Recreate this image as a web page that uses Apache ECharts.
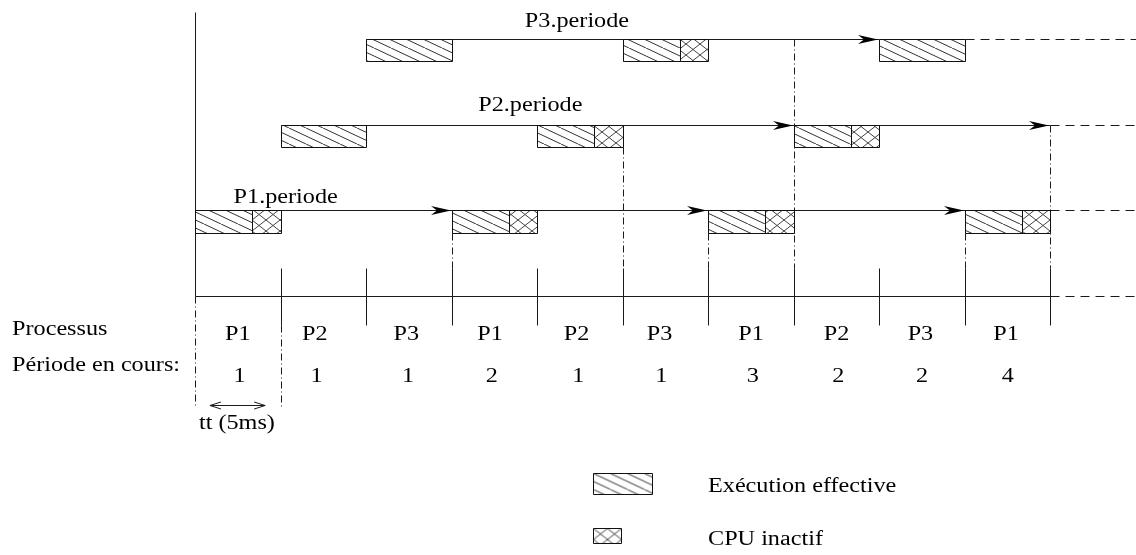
<!DOCTYPE html>
<html><head><meta charset="utf-8">
<script src="https://cdn.jsdelivr.net/npm/echarts@6/dist/echarts.min.js"></script>
<style>html,body{margin:0;padding:0;background:#fff}#c{width:1136px;height:555px}</style>
</head><body><div id="c"></div>
<script>
// ---------- data (time in scheduling slots, 1 slot = tt = 5 ms; rows: 1 = P1, 2 = P2, 3 = P3) ----------
const processNames = ['P1', 'P2', 'P3'];
const slotProcess = ['P1','P2','P3','P1','P2','P3','P1','P2','P3','P1'];
const slotPeriod  = ['1','1','1','2','1','1','3','2','2','4'];
// effective execution: [row, start, end]
const execBlocks = [
  [1, 0, 2/3], [1, 3, 3 + 2/3], [1, 6, 6 + 2/3], [1, 9, 9 + 2/3],
  [2, 1, 2], [2, 4, 4 + 2/3], [2, 7, 7 + 2/3],
  [3, 2, 3], [3, 5, 5 + 2/3], [3, 8, 9]
];
// idle CPU: [row, start, end]
const idleBlocks = [
  [1, 2/3, 1], [1, 3 + 2/3, 4], [1, 6 + 2/3, 7], [1, 9 + 2/3, 10],
  [2, 4 + 2/3, 5], [2, 7 + 2/3, 8],
  [3, 5 + 2/3, 6]
];
const periodStart    = [0, 1, 2];
const periodArrivals = [[3, 6, 9], [7, 10], [8]];
const periodSolidEnd = [10, 10, 8];
const periodDashFrom = [10, 10, 9];
const horizonEnd = 11;
const slotCount = 10;
// deadline / release guides (dash-dot): [time, top row level]
const guideTimes = [3, 5, 6, 7, 9, 10];
const guideTops  = ['r1', 'r2', 'r1', 3, 'r1', 2];

// ---------- styling ----------
const RH = 0.26;            // block height in row units
const FONT = 'Liberation Serif';
const SX = 1.21;            // horizontal text stretch of the original figure
const LINE = '#1a1a1a';

function hatchCanvas() {
  const W = 34, H = 16, c = document.createElement('canvas');
  c.width = W; c.height = H;
  const g = c.getContext('2d');
  g.strokeStyle = '#333'; g.lineWidth = 1;
  for (let k = -2; k <= 2; k++) {
    g.beginPath(); g.moveTo(k * 17, 0); g.lineTo(k * 17 + W, H); g.stroke();
  }
  return c;
}
function crossCanvas() {
  const W = 14, H = 11, c = document.createElement('canvas');
  c.width = W; c.height = H;
  const g = c.getContext('2d');
  g.strokeStyle = '#444'; g.lineWidth = 1;
  for (let k = -1; k <= 1; k++) {
    g.beginPath(); g.moveTo(k * W, 0); g.lineTo(k * W + W, H); g.stroke();
    g.beginPath(); g.moveTo(k * W, H); g.lineTo(k * W + W, 0); g.stroke();
  }
  return c;
}
const hatchFill = { image: hatchCanvas(), repeat: 'repeat' };
const crossFill = { image: crossCanvas(), repeat: 'repeat' };

const S = v => Math.round(v) + 0.5;
function txt(x, y, text, align) {
  return { type: 'text', x: x, y: y, scaleX: SX, silent: true,
    style: { text: text, fontFamily: FONT, fontSize: 20, fill: '#000',
             align: align || 'center', verticalAlign: 'middle' } };
}

function blockRender(fill) {
  return function (params, api) {
    const r = api.value(0), s = api.value(1), e = api.value(2);
    const a = api.coord([s, r]), b = api.coord([e, r - RH]);
    return { type: 'rect', silent: true,
      shape: { x: S(a[0]), y: S(a[1]), width: Math.round(b[0]) - Math.round(a[0]), height: Math.round(b[1]) - Math.round(a[1]) },
      style: { fill: fill, stroke: '#111', lineWidth: 1 } };
  };
}

function frameRender(params, api) {
  const P = (x, y) => api.coord([x, y]);
  const ch = [];
  const L = (x1, y1, x2, y2, dash, color) => {
    const a = P(x1, y1), b = P(x2, y2);
    ch.push({ type: 'line', silent: true,
      shape: { x1: S(a[0]), y1: S(a[1]), x2: S(b[0]), y2: S(b[1]) },
      style: { stroke: color || LINE, lineWidth: 1, lineDash: dash || null } });
  };
  const DASHDOT = [7, 3, 1, 3], DASH = [9, 6];
  const tickTop = 0.327, tickBot = -0.339, guideBot = -1.296;

  // vertical axis and time line
  L(0, 0, 0, 3.315);
  L(0, 0, slotCount, 0);
  L(slotCount, 0, horizonEnd, 0, DASH);
  for (let k = 1; k <= slotCount; k++) L(k, tickTop, k, tickBot);
  L(0, 0, 0, guideBot, DASHDOT);
  L(1, tickBot, 1, guideBot, DASHDOT);

  // dash-dot guides
  guideTimes.forEach((t, i) => {
    const top = guideTops[i];
    const yTop = top === 'r1' ? 1 - RH : top === 'r2' ? 2 - RH : top;
    L(t, yTop, t, tickTop, DASHDOT);
  });

  // period lines with arrows
  processNames.forEach((name, i) => {
    const r = i + 1;
    L(periodStart[i], r, periodSolidEnd[i], r);
    L(periodDashFrom[i], r, horizonEnd, r, DASH);
    periodArrivals[i].forEach(t => {
      const p = P(t, r), tx = Math.round(p[0]) - 1, ty = S(p[1]);
      ch.push({ type: 'polygon', silent: true,
        shape: { points: [[tx, ty], [tx - 20, ty - 4.5], [tx - 14, ty], [tx - 20, ty + 4.5]] },
        style: { fill: '#000' } });
    });
  });
  const lab = [[1.06, 1.146], [3.92, 2.225], [4.465, 3.205]];
  processNames.forEach((name, i) => {
    const p = P(lab[i][0], lab[i][1]);
    ch.push(txt(p[0], p[1], name + '.periode'));
  });

  // bottom rows
  const labX = [0.5, 1.4, 2.47, 3.45, 4.46, 5.43, 6.5, 7.5, 8.48, 9.48];
  slotProcess.forEach((s, k) => {
    const p = P(labX[k], -0.455);
    ch.push(txt(p[0], p[1], s));
    const q = P(labX[k] + 0.02, -0.945);
    ch.push(txt(q[0], q[1], slotPeriod[k]));
  });
  const pl = P(-2.139, -0.397);
  ch.push(txt(pl[0], pl[1], 'Processus', 'left'));
  const pp = P(-2.139, -0.817);
  ch.push(txt(pp[0], pp[1], 'Période en cours:', 'left'));

  // tt double arrow
  const a1 = P(0.175, -1.272), a2 = P(0.82, -1.272);
  const ay = S(a1[1]);
  ch.push({ type: 'polyline', silent: true, shape: { points: [[a1[0] + 11, ay - 3.5], [a1[0], ay], [a1[0] + 11, ay + 3.5]] }, style: { stroke: LINE, lineWidth: 1, fill: null } });
  ch.push({ type: 'polyline', silent: true, shape: { points: [[a2[0] - 11, ay - 3.5], [a2[0], ay], [a2[0] - 11, ay + 3.5]] }, style: { stroke: LINE, lineWidth: 1, fill: null } });
  ch.push({ type: 'line', silent: true, shape: { x1: a1[0], y1: ay, x2: a2[0], y2: ay }, style: { stroke: LINE, lineWidth: 1 } });
  const tt = P(0.49, -1.494);
  ch.push(txt(tt[0], tt[1], 'tt (5ms)'));

  return { type: 'group', children: ch };
}

const chart = echarts.init(document.getElementById('c'));
chart.setOption({
  animation: false,
  backgroundColor: '#fff',
  grid: { left: 195, right: 0, top: 39, bottom: 2 },
  xAxis: { type: 'value', min: 0, max: horizonEnd, show: false },
  yAxis: { type: 'value', min: -3, max: 3, show: false },
  series: [
    { type: 'custom', name: 'frame', clip: false, data: [[0, 0]], renderItem: frameRender },
    { type: 'custom', name: 'Exécution effective', clip: false, data: execBlocks,
      encode: { x: [1, 2], y: 0 }, renderItem: blockRender(hatchFill) },
    { type: 'custom', name: 'CPU inactif', clip: false, data: idleBlocks,
      encode: { x: [1, 2], y: 0 }, renderItem: blockRender(crossFill) }
  ],
  graphic: [
    { type: 'rect', x: 593.5, y: 473.5, shape: { width: 59, height: 21 },
      style: { fill: hatchFill, stroke: '#111', lineWidth: 1 } },
    { type: 'text', x: 708, y: 487, scaleX: SX,
      style: { text: 'Exécution effective', fontFamily: FONT, fontSize: 20, fill: '#000', align: 'left', verticalAlign: 'middle' } },
    { type: 'rect', x: 593.5, y: 528.5, shape: { width: 28, height: 15 },
      style: { fill: crossFill, stroke: '#111', lineWidth: 1 } },
    { type: 'text', x: 708, y: 540, scaleX: SX,
      style: { text: 'CPU inactif', fontFamily: FONT, fontSize: 20, fill: '#000', align: 'left', verticalAlign: 'middle' } }
  ]
});
</script>
</body></html>
